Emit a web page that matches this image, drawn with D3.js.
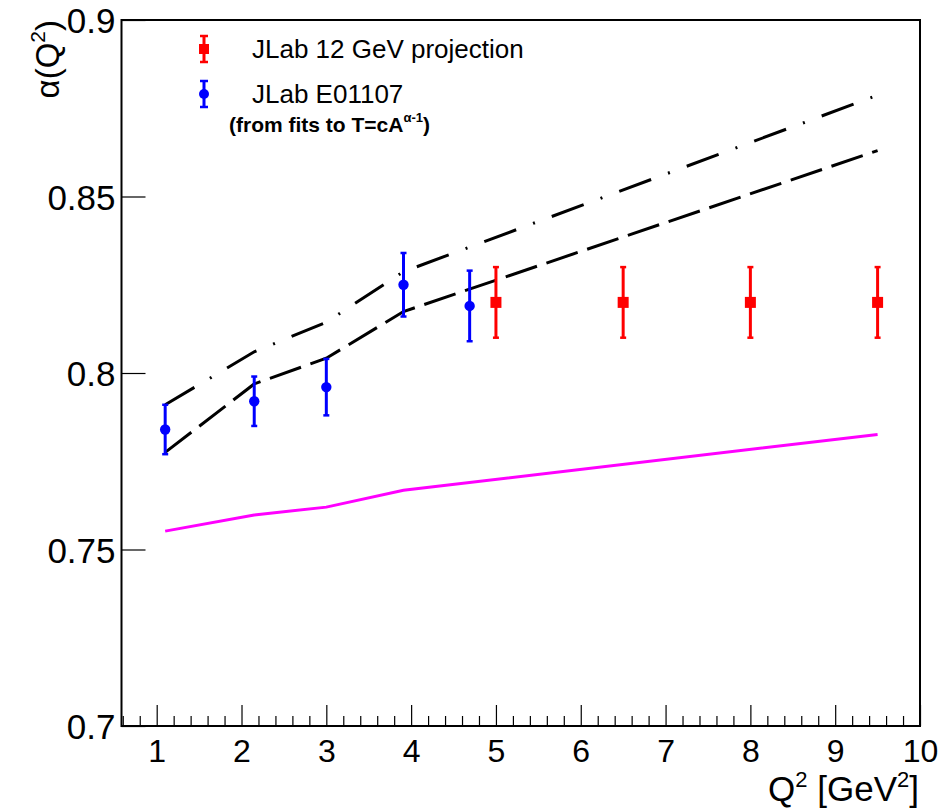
<!DOCTYPE html>
<html lang="en">
	<head>
		<meta charset="utf-8">
		<title>alpha(Q2) vs Q2</title>
		<script type="text/javascript" src="https://cdn.jsdelivr.net/npm/d3@7"></script>
		<style type="text/css">
			body { margin: 0; background: #fff; }
			text { font-family: "Liberation Sans", Arial, Helvetica, sans-serif; }
		</style>
	</head>
	<body>
		<script type="text/javascript">

			//Size of the page and the plot frame
			var w = 949;
			var h = 811;
			var frame = { left: 121.5, top: 20, right: 920, bottom: 726 };

			//Data
			var e01107Q2 = [1.1, 2.15, 3.0, 3.91, 4.69];
			var e01107Alpha = [0.784, 0.792, 0.796, 0.825, 0.819];
			var e01107Err = [0.007, 0.007, 0.008, 0.009, 0.010];

			var projQ2 = [5, 6.5, 8, 9.5];
			var projAlpha = [0.82, 0.82, 0.82, 0.82];
			var projErr = [0.01, 0.01, 0.01, 0.01];

			//Model curves
			var modelQ2 = [1.1, 2.15, 3.0, 3.91, 9.5];
			var dashDotAlpha = [0.791, 0.806, 0.8144, 0.8287, 0.8787];
			var dashedAlpha = [0.7775, 0.7969, 0.8042, 0.8174, 0.863];
			var magentaAlpha = [0.7552, 0.7598, 0.762, 0.7668, 0.7826];

			//Axis ticks
			var xTicks = [1, 2, 3, 4, 5, 6, 7, 8, 9, 10];
			var yTicks = [0.7, 0.75, 0.8, 0.85, 0.9];
			var yTickLabels = ["0.7", "0.75", "0.8", "0.85", "0.9"];

			//Scales
			var xScale = d3.scaleLinear()
							.domain([0.585, 10])
							.range([frame.left, frame.right]);

			var yScale = d3.scaleLinear()
							.domain([0.7, 0.9])
							.range([frame.bottom, frame.top]);

			var svg = d3.select("body")
						.append("svg")
						.attr("width", w)
						.attr("height", h);

			svg.append("rect")
				.attr("width", w)
				.attr("height", h)
				.attr("fill", "white");

			//Minor ticks on x, every 0.2
			var minorTicks = d3.range(6, 100, 2).map(function(d) { return d / 10; })
								.filter(function(d) { return d % 1 !== 0; });

			var xMinor = d3.axisBottom(xScale)
							.tickValues(minorTicks)
							.tickSizeInner(-10)
							.tickSizeOuter(0)
							.tickFormat("");

			svg.append("g")
				.attr("transform", "translate(0," + frame.bottom + ")")
				.call(xMinor)
				.call(function(g) { g.select(".domain").remove(); })
				.selectAll("line").attr("stroke-width", 1.2);

			//Major x axis
			var xAxis = d3.axisBottom(xScale)
							.tickValues(xTicks)
							.tickSizeInner(-21)
							.tickSizeOuter(0)
							.tickPadding(13)
							.tickFormat(d3.format("d"));

			var gx = svg.append("g")
				.attr("transform", "translate(0," + frame.bottom + ")")
				.call(xAxis);
			gx.select(".domain").remove();
			gx.selectAll("line").attr("stroke-width", 1.2);
			gx.selectAll("text")
				.attr("font-size", "32px")
				.attr("fill", "black");

			//y axis
			var yAxis = d3.axisLeft(yScale)
							.tickValues(yTicks)
							.tickSizeInner(-24)
							.tickSizeOuter(0)
							.tickPadding(6)
							.tickFormat(function(d, i) { return yTickLabels[i]; });

			var gy = svg.append("g")
				.attr("transform", "translate(" + frame.left + ",0)")
				.call(yAxis);
			gy.select(".domain").remove();
			gy.selectAll("line").attr("stroke-width", 1.2);
			gy.selectAll("text")
				.attr("font-size", "35px")
				.attr("dy", "0.36em")
				.attr("fill", "black");

			//Frame
			svg.append("rect")
				.attr("x", frame.left)
				.attr("y", frame.top)
				.attr("width", frame.right - frame.left)
				.attr("height", frame.bottom - frame.top)
				.attr("fill", "none")
				.attr("stroke", "black")
				.attr("stroke-width", 2);

			//Model lines
			var line = d3.line()
						.x(function(d) { return xScale(d[0]); })
						.y(function(d) { return yScale(d[1]); });

			function drawModel(values, color, dash) {
				svg.append("path")
					.datum(d3.zip(modelQ2, values))
					.attr("d", line)
					.attr("fill", "none")
					.attr("stroke", color)
					.attr("stroke-width", 3)
					.attr("stroke-dasharray", dash);
			}

			drawModel(magentaAlpha, "#ff00ff", null);
			drawModel(dashedAlpha, "black", "33,10");
			drawModel(dashDotAlpha, "black", "34,18,2,18");

			//Points with error bars
			function drawPoints(xs, ys, errs, color, shape) {
				var data = d3.zip(xs, ys, errs);
				var g = svg.append("g");

				g.selectAll("line.bar")
					.data(data)
					.enter()
					.append("line")
					.attr("x1", function(d) { return xScale(d[0]); })
					.attr("x2", function(d) { return xScale(d[0]); })
					.attr("y1", function(d) { return yScale(d[1] - d[2]); })
					.attr("y2", function(d) { return yScale(d[1] + d[2]); })
					.attr("stroke", color)
					.attr("stroke-width", 3);

				[-1, 1].forEach(function(s) {
					g.selectAll("line.cap" + (s + 1))
						.data(data)
						.enter()
						.append("line")
						.attr("x1", function(d) { return xScale(d[0]) - 3; })
						.attr("x2", function(d) { return xScale(d[0]) + 3; })
						.attr("y1", function(d) { return yScale(d[1] + s * d[2]); })
						.attr("y2", function(d) { return yScale(d[1] + s * d[2]); })
						.attr("stroke", color)
						.attr("stroke-width", 2.5);
				});

				if (shape == "circle") {
					g.selectAll("circle")
						.data(data)
						.enter()
						.append("circle")
						.attr("cx", function(d) { return xScale(d[0]); })
						.attr("cy", function(d) { return yScale(d[1]); })
						.attr("r", 5.2)
						.attr("fill", color);
				} else {
					g.selectAll("rect")
						.data(data)
						.enter()
						.append("rect")
						.attr("x", function(d) { return xScale(d[0]) - 5.5; })
						.attr("y", function(d) { return yScale(d[1]) - 5.5; })
						.attr("width", 11)
						.attr("height", 11)
						.attr("fill", color);
				}
			}

			drawPoints(e01107Q2, e01107Alpha, e01107Err, "#0000ff", "circle");
			drawPoints(projQ2, projAlpha, projErr, "#ff0000", "square");

			//Legend
			function legendMarker(cx, cy, color, shape) {
				svg.append("line")
					.attr("x1", cx).attr("x2", cx)
					.attr("y1", cy - 13).attr("y2", cy + 13)
					.attr("stroke", color).attr("stroke-width", 3);
				[-13, 13].forEach(function(o) {
					svg.append("line")
						.attr("x1", cx - 4).attr("x2", cx + 4)
						.attr("y1", cy + o).attr("y2", cy + o)
						.attr("stroke", color).attr("stroke-width", 2.5);
				});
				if (shape == "circle") {
					svg.append("circle").attr("cx", cx).attr("cy", cy).attr("r", 5).attr("fill", color);
				} else {
					svg.append("rect").attr("x", cx - 5).attr("y", cy - 5)
						.attr("width", 10).attr("height", 10).attr("fill", color);
				}
			}

			legendMarker(204, 49, "#ff0000", "square");
			legendMarker(204, 94, "#0000ff", "circle");

			svg.append("text")
				.attr("x", 252).attr("y", 58)
				.attr("font-size", "26px")
				.text("JLab 12 GeV projection");

			svg.append("text")
				.attr("x", 252).attr("y", 103)
				.attr("font-size", "26px")
				.text("JLab E01107");

			var note = svg.append("text")
				.attr("x", 229).attr("y", 132)
				.attr("font-size", "21px")
				.attr("font-weight", "bold");
			note.append("tspan").text("(from fits to T=cA");
			note.append("tspan").attr("font-size", "13px").attr("dy", -10).text("\u03b1-1");
			note.append("tspan").attr("dy", 10).text(")");

			//Axis titles
			var yTitle = svg.append("text")
				.attr("transform", "translate(59,20) rotate(-90)")
				.attr("text-anchor", "end")
				.attr("font-size", "33px");
			yTitle.append("tspan").text("\u03b1(Q");
			yTitle.append("tspan").attr("font-size", "21px").attr("dy", -14).text("2");
			yTitle.append("tspan").attr("dy", 14).text(")");

			var xTitle = svg.append("text")
				.attr("x", 919).attr("y", 801)
				.attr("text-anchor", "end")
				.attr("font-size", "35px");
			xTitle.append("tspan").text("Q");
			xTitle.append("tspan").attr("font-size", "22px").attr("dy", -14).text("2");
			xTitle.append("tspan").attr("dy", 14).text(" [GeV");
			xTitle.append("tspan").attr("font-size", "22px").attr("dy", -14).text("2");
			xTitle.append("tspan").attr("dy", 14).text("]");

		</script>
	</body>
</html>
